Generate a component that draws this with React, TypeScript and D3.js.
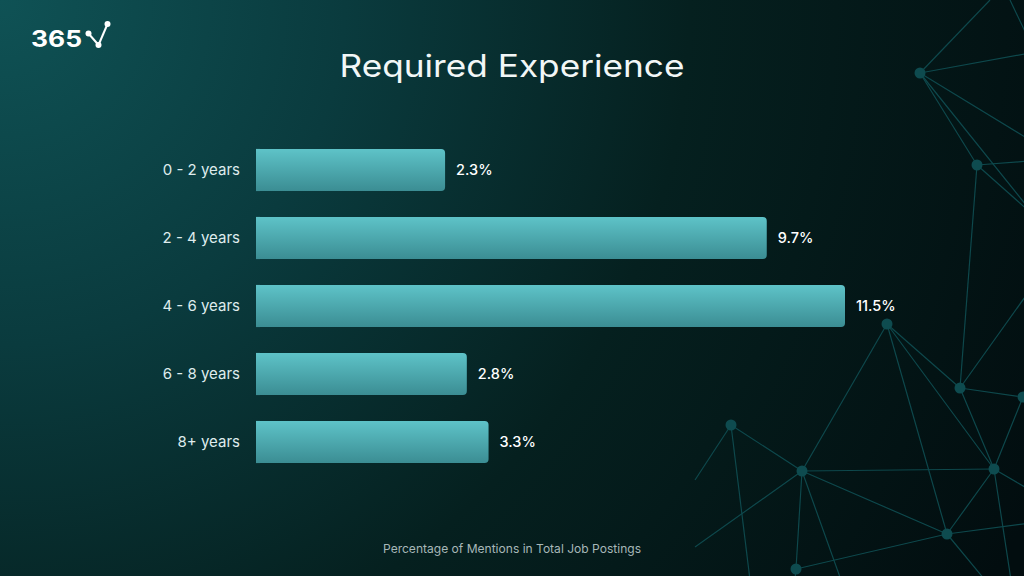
import React from "react";
import * as d3 from "d3";

const categories = ["0 - 2 years", "2 - 4 years", "4 - 6 years", "6 - 8 years", "8+ years"];
const values = [2.3, 9.7, 11.5, 2.8, 3.3];
const valueLabels = ["2.3%", "9.7%", "11.5%", "2.8%", "3.3%"];
const title = "Required Experience";
const footnote = "Percentage of Mentions in Total Job Postings";

// decorative network (background art)
const netNodes: [number, number][] = [
  [920, 73], [977, 165], [887, 324], [960, 388], [1023, 397],
  [731, 425], [802, 471], [994, 469], [947, 534], [796, 569],
];
const netEdges: [number, number][] = [
  [0, 1], [1, 3], [2, 3], [2, 6], [2, 7], [2, 8], [3, 4], [3, 7],
  [5, 6], [6, 7], [6, 8], [6, 9], [7, 8], [8, 9], [7, 4],
];
const netOuter: [number, number, number, number][] = [
  [920, 73, 990, 0], [920, 73, 1030, 53], [920, 73, 1030, 140], [920, 73, 1030, 210],
  [1010, 0, 1030, 42], [977, 165, 1030, 161], [977, 165, 1030, 212],
  [960, 388, 1030, 290], [731, 425, 695, 480], [731, 425, 750, 580],
  [802, 471, 695, 547], [802, 471, 841, 580], [994, 469, 1030, 490],
  [994, 469, 1011, 580], [947, 534, 1030, 523], [947, 534, 985, 580],
  [796, 569, 795, 580],
];

const W = 1024;
const H = 576;
const FONT = "Inter, 'Noto Sans', sans-serif";

export default function App() {
  const x = d3.scaleLinear().domain([-2.05, 11.5]).range([256, 845]);
  const y = d3
    .scaleBand<string>()
    .domain(categories)
    .range([136, 476])
    .paddingInner(0.38)
    .paddingOuter(0.19);
  const x0 = x(-2.05);

  return (
    <svg
      width={W}
      height={H}
      viewBox={`0 0 ${W} ${H}`}
      style={{ position: "absolute", left: 0, top: 0, display: "block" }}
    >
      <defs>
        <radialGradient id="bg" cx="0" cy="0" r="1150" gradientUnits="userSpaceOnUse">
          <stop offset="0" stopColor="#0f5255" />
          <stop offset="0.3" stopColor="#0a3b3e" />
          <stop offset="0.6" stopColor="#05201f" />
          <stop offset="1" stopColor="#020d0f" />
        </radialGradient>
        <linearGradient id="bar" x1="0" y1="0" x2="0" y2="1">
          <stop offset="0" stopColor="#5ec3c8" />
          <stop offset="1" stopColor="#3b8d93" />
        </linearGradient>
      </defs>
      <rect x={0} y={0} width={W} height={H} fill="url(#bg)" />

      <g stroke="#0f4b4f" strokeWidth={1.2} opacity={0.95}>
        {netEdges.map(([a, b], i) => (
          <line key={"e" + i} x1={netNodes[a][0]} y1={netNodes[a][1]} x2={netNodes[b][0]} y2={netNodes[b][1]} />
        ))}
        {netOuter.map(([a, b, c, d], i) => (
          <line key={"o" + i} x1={a} y1={b} x2={c} y2={d} />
        ))}
      </g>
      <g fill="#0e4b4f">
        {netNodes.map(([cx, cy], i) => (
          <circle key={"n" + i} cx={cx} cy={cy} r={5.5} />
        ))}
      </g>

      {/* logo */}
      <text
        x={31}
        y={47}
        fill="#ffffff"
        fontFamily={FONT}
        fontWeight={700}
        fontSize={23}
        textLength={51}
        lengthAdjust="spacingAndGlyphs"
      >
        365
      </text>
      <g stroke="#ffffff" strokeWidth={2}>
        <line x1={88.5} y1={33.5} x2={98.5} y2={45} />
        <line x1={98.5} y1={45} x2={107.5} y2={24} />
      </g>
      <g fill="#ffffff">
        <circle cx={88.5} cy={33.5} r={3} />
        <circle cx={98.5} cy={45} r={3} />
        <circle cx={107.5} cy={24} r={3} />
      </g>

      <text
        x={512}
        y={77}
        textAnchor="middle"
        fill="#f2f7f7"
        fontFamily={FONT}
        fontWeight={400}
        fontSize={31}
        textLength={345}
        lengthAdjust="spacingAndGlyphs"
      >
        {title}
      </text>

      {categories.map((c, i) => {
        const yy = y(c)!;
        const bw = y.bandwidth();
        const xe = x(values[i]);
        return (
          <g key={c}>
            <rect x={x0} y={yy} width={xe - x0} height={bw} rx={4} ry={4} fill="url(#bar)" />
            <rect x={x0} y={yy} width={4} height={bw} fill="url(#bar)" />
            <text
              x={240}
              y={yy + bw / 2}
              dy="0.35em"
              textAnchor="end"
              fill="#dfeced"
              fontFamily={FONT}
              fontSize={15}
            >
              {c}
            </text>
            <text
              x={xe + 11}
              y={yy + bw / 2}
              dy="0.35em"
              fill="#ffffff"
              fontFamily={FONT}
              fontWeight={500}
              fontSize={14.5}
            >
              {valueLabels[i]}
            </text>
          </g>
        );
      })}

      <text
        x={512}
        y={553}
        textAnchor="middle"
        fill="#a7b7b8"
        fontFamily={FONT}
        fontSize={12}
        textLength={258}
        lengthAdjust="spacingAndGlyphs"
      >
        {footnote}
      </text>
    </svg>
  );
}
